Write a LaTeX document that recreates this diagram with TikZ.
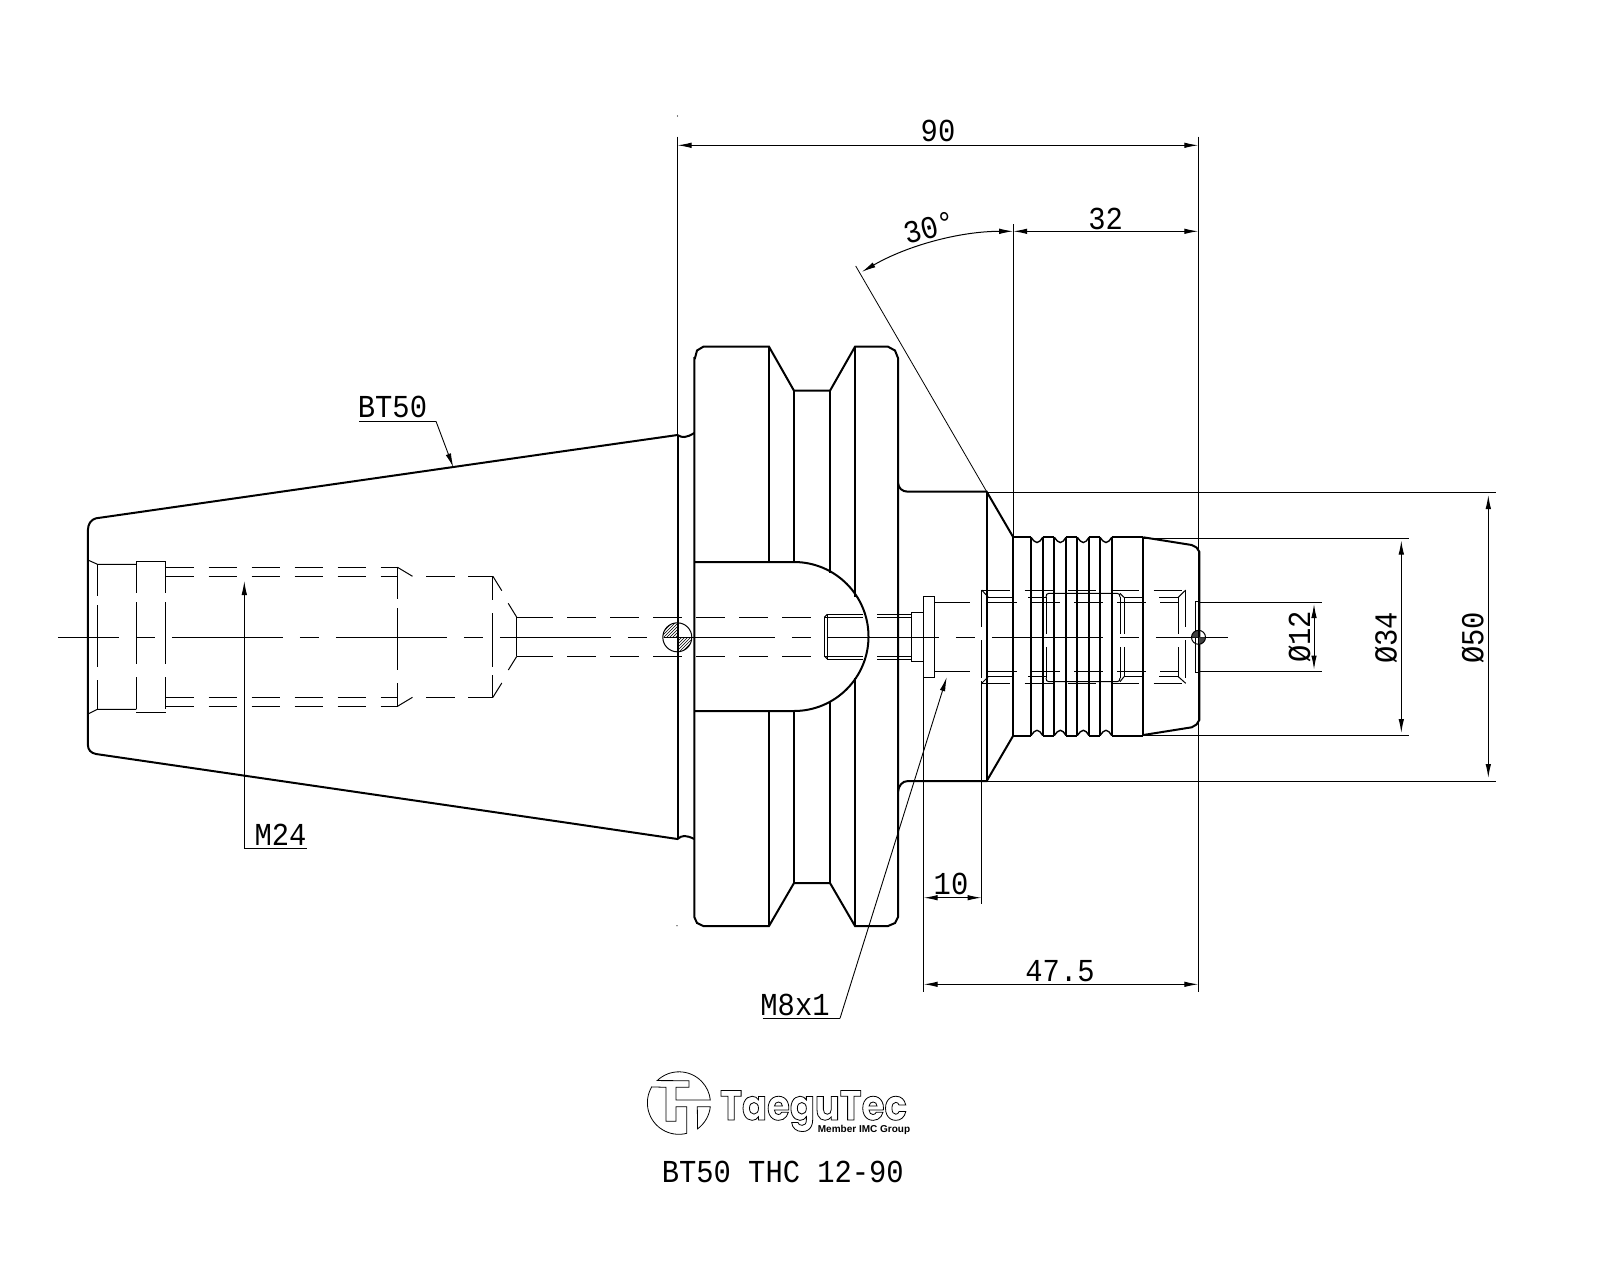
\documentclass[tikz,border=0pt]{standalone}
\usepackage{fontspec}
\usetikzlibrary{arrows.meta,patterns}
\setmainfont[FakeStretch=0.9]{Liberation Mono}
\newfontfamily\logofont[FakeStretch=0.88]{Poppins}
\newfontfamily\subfont{Liberation Sans}
\newcommand\cadsize{\fontsize{32}{33}\selectfont}
\tikzset{
 thickline/.style={line width=2pt,line join=miter},
 thinline/.style={line width=1pt},
 hair/.style={line width=0.8pt},
 dashA/.style={line width=1pt,dash pattern=on 28.5pt off 14.5pt},
 dashV/.style={line width=1pt,dash pattern=on 32pt off 9pt on 62pt off 13pt on 32pt},
 dashI/.style={line width=1pt,dash pattern=on 37pt off 13pt on 38pt},
 centerl/.style={line width=1pt,dash pattern=on 111pt off 17pt on 19pt off 17pt,dash phase=50pt},
 dimline/.style={line width=1pt,{Latex[length=14pt,width=5.5pt]}-{Latex[length=14pt,width=5.5pt]}},
 leader/.style={line width=0.9pt,-{Latex[length=14pt,width=5.5pt]}},
 cadtext/.style={font=\cadsize,inner sep=0pt,anchor=base},
}
\begin{document}
\begin{tikzpicture}[x=1pt,y=-1pt]
\useasboundingbox (0,0) rectangle (1600,1280);
\fill[white] (0,0) rectangle (1600,1280);

% ---- taper outline
\draw[thickline] (677.5,435) -- (560,451.7) -- (96,518.3)
  .. controls (91,519.5) and (88,524) .. (87.9,530) -- (87.9,745)
  .. controls (88,750) and (91,753) .. (96,754) -- (560,821.7) -- (677.5,839)
  .. controls (682,835) and (686,835) .. (694.3,839);
\draw[thickline] (677.5,435) .. controls (682,438) and (686,438) .. (694.3,433);
\draw[thickline] (677.5,435) -- (677.5,839);

% ---- flange
\draw[thickline] (695,358) -- (697,350.5) -- (703.3,346.7) -- (769,346.7) -- (794,390.7) -- (830,390.7)
  -- (855,346.7) -- (888,346.7) -- (895,350.5) -- (898,358) -- (898,917) -- (895,923) -- (888,926)
  -- (855,926) -- (830,883) -- (794,883) -- (769,926) -- (703.3,926) -- (697,923) -- (694.3,917) -- (694.3,358) -- cycle;
\draw[thickline] (769,346.7) -- (769,562);
\draw[thickline] (794,390.7) -- (794,562);
\draw[thickline] (830,390.7) -- (830,573);
\draw[thickline] (855,346.7) -- (855,597);
\draw[thickline] (769,711) -- (769,926);
\draw[thickline] (794,711) -- (794,883);
\draw[thickline] (830,701) -- (830,883);
\draw[thickline] (855,678) -- (855,926);
\draw[thickline] (694.3,562) -- (794,562) arc[start angle=-90,end angle=90,radius=74.5] -- (694.3,711);

% ---- neck and chamfer
\draw[thickline] (898,483) .. controls (898.5,488) and (902,491.7) .. (908,491.7) -- (986.7,491.7) -- (1013.3,537.3);
\draw[thickline] (898,791.7) .. controls (898.5,786) and (902,781) .. (908,781) -- (986.7,781) -- (1013.3,735.5);
\draw[thickline] (986.7,491.7) -- (986.7,781);

% ---- collet nose
\draw[thickline] (1013.3,537.3) -- (1013.3,735.5);
\foreach \gx in {1031,1042.7,1054.3,1066,1077.3,1088.7,1100,1111.7,1143.3}
  \draw[thickline] (\gx,537.3) -- (\gx,735.5);
\draw[thickline] (1013.3,537.3) -- (1031,537.3) (1042.7,537.3) -- (1054.3,537.3) (1066,537.3) -- (1077.3,537.3) (1088.7,537.3) -- (1100,537.3) (1111.7,537.3) -- (1143.3,537.3);
\draw[thickline] (1013.3,735.5) -- (1031,735.5) (1042.7,735.5) -- (1054.3,735.5) (1066,735.5) -- (1077.3,735.5) (1088.7,735.5) -- (1100,735.5) (1111.7,735.5) -- (1143.3,735.5);
\foreach \gx in {1031,1054.3,1077.3,1100}{
  \draw[line width=1.4pt] (\gx,537.3) -- ++(3,3.7) -- ++(3,1.5) -- ++(3,-1.5) -- ++(2.7,-3.7);
  \draw[line width=1.4pt] (\gx,735.5) -- ++(3,-3.7) -- ++(3,-1.5) -- ++(3,1.5) -- ++(2.7,3.7);
}
\draw[thickline] (1143.3,537.3) -- (1191.7,545) -- (1196.5,547.5) -- (1199.3,551.7) -- (1199.3,720) -- (1196.5,724.5) -- (1191.7,727.3) -- (1143.3,735);

% ---- left internal bore
\draw[thinline] (87.9,560) -- (97.5,564.3) -- (136.4,564.3);
\draw[thinline] (87.9,714) -- (97.5,709.3) -- (136.4,709.3);
\draw[thinline] (136.4,561.3) -- (165.7,561.3) (136.4,712.3) -- (165.7,712.3);
\foreach \vx in {97.5}
  \draw[dashV] (\vx,564.3) -- (\vx,709.3);
\foreach \vx in {136.4,165.7}
  \draw[dashV] (\vx,561.3) -- (\vx,712.3);
\draw[dashA] (165.7,567.3) -- (397.5,567.3);
\draw[dashA] (165.7,576.3) -- (397.5,576.3);
\draw[dashA] (165.7,697.3) -- (397.5,697.3);
\draw[dashA] (165.7,706.3) -- (397.5,706.3);
\draw[thinline] (397.5,567.3) -- (412.5,576.3) (397.5,706.3) -- (412.5,697.3);
\draw[dashV] (397.5,567.3) -- (397.5,706.3);
\draw[thinline] (426,576.3) -- (455,576.3) (468,576.3) -- (492.9,576.3);
\draw[thinline] (426,697.3) -- (455,697.3) (468,697.3) -- (492.9,697.3);
\draw[line width=1pt,dash pattern=on 24pt off 13pt on 54pt off 8pt on 22pt] (492.9,576.3) -- (492.9,697.3);
\draw[thinline] (492.9,576.3) -- (501.8,590.7) (508.2,603.3) -- (516.8,617.3);
\draw[thinline] (492.9,697.3) -- (501.8,683) (508.3,670) -- (516.8,656.3);
\draw[thinline] (516.8,617.3) -- (516.8,656.3);
\draw[thinline] (516.8,617.3) -- (553,617.3) (516.8,656.3) -- (553,656.3);
\draw[dashA] (567,617.3) -- (818,617.3);
\draw[dashA] (567,656.3) -- (818,656.3);

% ---- hole and steps behind the flange
\draw[thinline] (824.3,617.3) -- (827.3,614.3) (824.3,656) -- (827.3,659);
\draw[thinline] (824.3,617.3) -- (824.3,656) (827.3,614.3) -- (827.3,659);
\draw[thinline] (824.3,617.3) -- (863,617.3) (877,617.3) -- (911.7,617.3);
\draw[thinline] (827.3,614.3) -- (863,614.3) (877,614.3) -- (911.7,614.3);
\draw[thinline] (824.3,656) -- (863,656) (877,656) -- (911.7,656);
\draw[thinline] (827.3,659) -- (863,659) (877,659) -- (911.7,659);
\draw[thinline] (911.7,612.3) rectangle (923.5,661);
\draw[thinline] (923.5,596.7) rectangle (934.7,677.3);

% ---- right internal bore
\draw[thinline] (934.7,602.3) -- (970,602.3) (934.7,671.3) -- (970,671.3);
\draw[dashA] (988,602.3) -- (1178,602.3);
\draw[dashA] (988,671.3) -- (1178,671.3);
\draw[thinline] (1198.3,602.3) -- (1321.7,602.3) (1198.3,671.3) -- (1321.7,671.3);
\draw[dashA] (981.7,590) -- (1185.7,590);
\draw[dashA] (981.7,683.3) -- (1185.7,683.3);
\draw[dashI] (981.7,590) -- (981.7,681);
\draw[thinline] (981.7,590) -- (988.3,597.3) (981.7,683.3) -- (988.3,676.7);
\draw[line width=1pt,dash pattern=on 25pt off 15pt] (988.3,597.3) -- (1046,597.3);
\draw[line width=1pt,dash pattern=on 25pt off 15pt] (988.3,676.7) -- (1046,676.7);
\draw[line width=1pt,dash pattern=on 18pt off 17pt on 19.3pt] (1124,597.3) -- (1178.3,597.3);
\draw[line width=1pt,dash pattern=on 18pt off 17pt on 19.3pt] (1124,676.7) -- (1178.3,676.7);
\draw[thinline] (1178.3,597.3) -- (1185.7,590) (1178.3,676.7) -- (1185.7,683.3);
\draw[dashI] (1178.3,597.3) -- (1178.3,676.7);
\draw[dashI] (1185.7,590) -- (1185.7,683.3);
\draw[thinline] (1046,597) .. controls (1046,594.5) and (1047,593.3) .. (1049,593.3) -- (1117,593.3) .. controls (1119,593.3) and (1120,594.5) .. (1120,597);
\draw[thinline] (1046,678) .. controls (1046,680.5) and (1047,681.7) .. (1049,681.7) -- (1117,681.7) .. controls (1119,681.7) and (1120,680.5) .. (1120,678);
\draw[dashI] (1046,597) -- (1046,678);
\draw[dashI] (1120,597) -- (1120,678);
\draw[thinline] (1120,593.3) -- (1124,597.3) (1120,681.7) -- (1124,676.7);
\draw[dashI] (1124,597.3) -- (1124,676.7);
\draw[thinline] (1195.7,601.7) rectangle (1199.3,672.3);

% ---- centre line
\draw[centerl] (57.9,637.3) -- (1227.7,637.3);

% ---- hatched circles
\draw[pattern=north east lines,draw=none] (677.3,637.3) -- (662.8,637.3) arc[start angle=180,end angle=270,radius=14.5] -- cycle;
\draw[pattern=north east lines,draw=none] (677.3,637.3) -- (691.8,637.3) arc[start angle=0,end angle=90,radius=14.5] -- cycle;
\draw[thinline] (677.3,637.3) circle[radius=14.5];
\fill[black!75] (1198.5,637.3) -- (1191.5,637.3) arc[start angle=180,end angle=270,radius=7] -- cycle;
\fill[black!75] (1198.5,637.3) -- (1205.5,637.3) arc[start angle=0,end angle=90,radius=7] -- cycle;
\draw[thinline] (1198.5,637.3) circle[radius=7];

% ---- extension lines
\draw[thinline] (677.5,136.7) -- (677.5,435);
\draw[thinline] (1198.3,136.7) -- (1198.3,991.7);
\draw[thinline] (1013.2,224) -- (1013.2,537.3);
\draw[thinline] (923.7,677.3) -- (923.7,991.7);
\draw[thinline] (981.5,681) -- (981.5,904.3);
\draw[thinline] (986.7,492.3) -- (1495.7,492.3);
\draw[thinline] (986.7,781) -- (1495.7,781);
\draw[thinline] (1143.3,538.3) -- (1409,538.3);
\draw[thinline] (1143.3,735.3) -- (1409,735.3);
\draw[hair] (855.7,266) -- (986.7,491.7);
\fill (677.5,116) circle[radius=0.6];
\fill (677,925.7) circle[radius=0.6];

% ---- dimension lines
\draw[dimline] (677.5,145.3) -- (1198.3,145.3);
\draw[dimline] (1013.2,231.3) -- (1198.3,231.3);
\draw[dimline] (923.7,897.7) -- (981.5,897.7);
\draw[dimline] (923.7,984.3) -- (1198.3,984.3);
\draw[dimline] (1488.3,495) -- (1488.3,778);
\draw[dimline] (1401.3,540.5) -- (1401.3,733);
\draw[dimline] (1314,604) -- (1314,669.5);
\draw[dimline] (1013.2,231.3) arc[start angle=-90,end angle=-120,radius=302.8];

% ---- leaders
\draw[thinline] (359,421.3) -- (436,421.3);
\draw[leader] (436,421.3) -- (453.3,467.3);
\draw[thinline] (306.8,848.3) -- (244.3,848.3);
\draw[leader] (244.3,848.3) -- (244.3,581);
\draw[thinline] (762.7,1018.3) -- (840,1018.3);
\draw[leader] (840,1018.3) -- (946.7,677.3);

% ---- labels
\node[cadtext] (lab90) at (938,141.7) {90};
\node[cadtext] (lab32) at (1105.7,229) {32};
\node[cadtext,rotate=15] (lab30) at (932,238) {30°};
\node[cadtext] (lab10) at (951,894) {10};
\node[cadtext] (lab475) at (1060,981.7) {47.5};
\node[cadtext] (labm8) at (795,1015) {M8x1};
\node[cadtext] (labbt) at (392.5,417.5) {BT50};
\node[cadtext] (labm24) at (280.5,845) {M24};
\node[cadtext,rotate=90] (labd12) at (1310,637) {Ø12};
\node[cadtext,rotate=90] (labd34) at (1396.7,638) {Ø34};
\node[cadtext,rotate=90] (labd50) at (1483.3,638) {Ø50};
\node[cadtext] (title) at (782.8,1182.5) {BT50 THC 12-90};

% ---- logo
\draw[hair,line join=miter] ([shift={(679,1103.3)}]-133.8:31.5) arc[start angle=-133.8,end angle=-6,radius=31.5]
  -- (676,1100) -- (676,1087.3) -- (689,1087.3) -- (689,1080.7) -- cycle;
\draw[hair,line join=miter] ([shift={(679,1103.3)}]75.6:31) arc[start angle=75.6,end angle=210.4,radius=31.5]
  -- (666,1087.3) -- (666,1121.3) -- (676,1121.3) -- (676,1106.7) -- (686.7,1106.7) -- cycle;
\draw[hair,line join=miter] (697.3,1106.7) -- (710.3,1106.7) arc[start angle=6,end angle=53.8,radius=31.5] -- cycle;
\node[inner sep=0pt,anchor=base,font=\logofont\bfseries\fontsize{42}{42}\selectfont] (logotext) at (813.5,1120)
  {\special{pdf:code 1 Tr 0.8 w}TaeguTec\special{pdf:code 0 Tr 1 w}};
\node[inner sep=0pt,anchor=base,font=\subfont\bfseries\fontsize{10}{10}\selectfont] (logosub) at (864,1132.5) {Member IMC Group};
\end{tikzpicture}
\end{document}
